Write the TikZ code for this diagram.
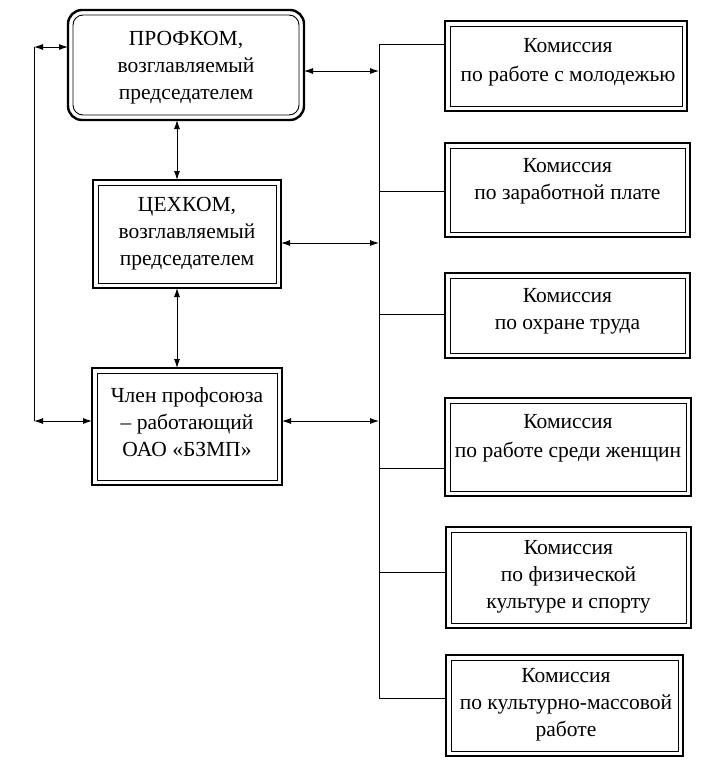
\documentclass[tikz,border=0pt]{standalone}
\usepackage{fontspec}
\setmainfont{Liberation Serif}
\usetikzlibrary{arrows.meta}
\begin{document}
\begin{tikzpicture}[x=1pt,y=-1pt,
  box/.style={draw, line width=2.4pt, outer sep=0pt, inner sep=0pt},
  innerline/.style={draw, line width=0.9pt},
  txt/.style={align=center, inner sep=0pt, font=\fontsize{21.5}{27}\selectfont},
  conn/.style={line width=0.9pt},
  biarrow/.style={conn, {Latex[length=9pt,width=6pt]}-{Latex[length=9pt,width=6pt]}}]
\useasboundingbox (0,0) rectangle (718,780);

% left boxes
\node[box, rounded corners=14pt, minimum width=236, minimum height=110] (pk) at (186,65) {};
\draw[innerline, rounded corners=10pt] ([shift={(5,5)}]pk.north west) rectangle ([shift={(-5,-5)}]pk.south east);
\node[txt] (pkt) at (186,68) {ПРОФКОМ,\\возглавляемый\\председателем};

\node[box, minimum width=188, minimum height=108] (ck) at (187,234) {};
\node[txt] (ckt) at (187,234) {ЦЕХКОМ,\\возглавляемый\\председателем};

\node[box, minimum width=190, minimum height=117] (mem) at (187,426.5) {};
\node[txt] (memt) at (187,422) {Член профсоюза\\– работающий\\ОАО «БЗМП»};

% right boxes
\node[box, minimum width=242, minimum height=90] (r1) at (566,66) {};
\node[txt] (r1t) at (568,62) {Комиссия\\[2pt]по работе с молодежью};
\node[box, minimum width=245, minimum height=94] (r2) at (567.5,190) {};
\node[txt] (r2t) at (567.5,181) {Комиссия\\по заработной плате};
\node[box, minimum width=245, minimum height=85] (r3) at (567.5,315.5) {};
\node[txt] (r3t) at (567.5,311) {Комиссия\\по охране труда};
\node[box, minimum width=246, minimum height=98] (r4) at (568,447) {};
\node[txt] (r4t) at (568,438) {Комиссия\\[2pt]по работе среди женщин};
\node[box, minimum width=245, minimum height=101] (r5) at (568.5,577.5) {};
\node[txt] (r5t) at (568.5,577) {Комиссия\\по физической\\культуре и спорту};
\node[box, minimum width=237, minimum height=101] (r6) at (564.5,705.5) {};
\node[txt] (r6t) at (566,705) {Комиссия\\по культурно-массовой\\работе};

\foreach \n in {ck,mem,r1,r2,r3,r4,r5,r6}
  \draw[innerline] ([shift={(5,5)}]\n.north west) rectangle ([shift={(-5,-5)}]\n.south east);

% coordinates
\coordinate (L1) at (34,47);
\coordinate (L2) at (34,421);
\coordinate (v) at (177,0);
\coordinate (a1) at (379,71);
\coordinate (a2) at (379,243);
\coordinate (a3) at (379,421);
\coordinate (b1) at (379,44);
\coordinate (b2) at (379,191);
\coordinate (b3) at (379,314);
\coordinate (b4) at (379,468);
\coordinate (b5) at (379,572);
\coordinate (b6) at (379,698);

% left line
\draw[conn] (L1) -- (L2);
\draw[biarrow] (L1) -- (L1 -| pk.west);
\draw[biarrow] (L2) -- (L2 -| mem.west);

% vertical arrows
\draw[biarrow] (pk.south -| v) -- (ck.north -| v);
\draw[biarrow] (ck.south -| v) -- (mem.north -| v);

% right arrows to bus
\draw[biarrow] (a1 -| pk.east) -- (a1);
\draw[biarrow] (a2 -| ck.east) -- (a2);
\draw[biarrow] (a3 -| mem.east) -- (a3);

% bus
\draw[conn] (b1) -- (b6);
\draw[conn] (b1) -- (b1 -| r1.west);
\draw[conn] (b2) -- (b2 -| r2.west);
\draw[conn] (b3) -- (b3 -| r3.west);
\draw[conn] (b4) -- (b4 -| r4.west);
\draw[conn] (b5) -- (b5 -| r5.west);
\draw[conn] (b6) -- (b6 -| r6.west);
\end{tikzpicture}
\end{document}
